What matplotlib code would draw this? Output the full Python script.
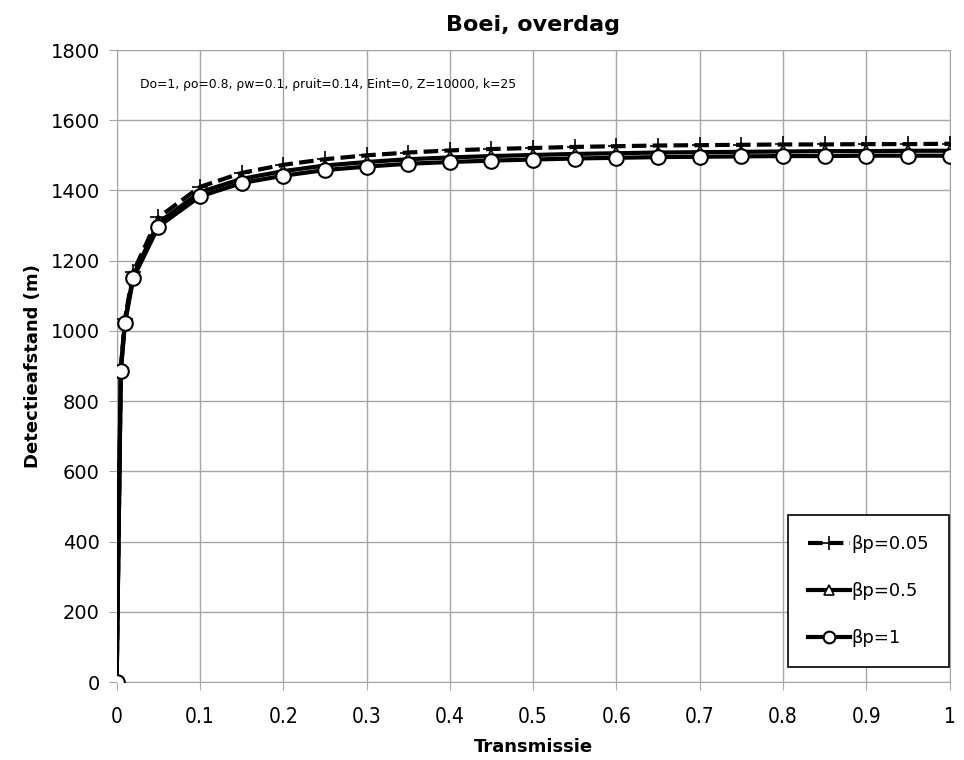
import matplotlib
matplotlib.use('Agg')
import matplotlib.pyplot as plt

# transmissie
x = [0, 0.005, 0.01, 0.02, 0.05, 0.1, 0.15, 0.2, 0.25, 0.3, 0.35, 0.4, 0.45,
     0.5, 0.55, 0.6, 0.65, 0.7, 0.75, 0.8, 0.85, 0.9, 0.95, 1.0]

# detectieafstand (m) per beta_p
bp_005 = [0, 895, 1035, 1168, 1323, 1410, 1450, 1473, 1489, 1500, 1508, 1514,
          1518, 1521, 1524, 1526, 1528, 1529, 1530, 1531, 1531, 1532, 1532, 1533]
bp_05 = [0, 890, 1028, 1158, 1308, 1395, 1433, 1455, 1471, 1481, 1489, 1494,
         1498, 1501, 1504, 1506, 1508, 1509, 1510, 1511, 1512, 1512, 1513, 1513]
bp_1 = [0, 885, 1022, 1150, 1297, 1383, 1421, 1442, 1458, 1468, 1476, 1481,
        1485, 1488, 1491, 1493, 1495, 1496, 1497, 1498, 1498, 1499, 1499, 1499]

labels = ['\u03b2p=0.05', '\u03b2p=0.5', '\u03b2p=1']
xticks = [0, 0.1, 0.2, 0.3, 0.4, 0.5, 0.6, 0.7, 0.8, 0.9, 1]
xticklabels = ['0', '0.1', '0.2', '0.3', '0.4', '0.5', '0.6', '0.7', '0.8', '0.9', '1']
yticks = list(range(0, 1801, 200))

fig = plt.figure(figsize=(9.64, 7.6), dpi=100)
ax = fig.add_axes([0.121, 0.1026, 0.864, 0.8316])

ax.plot(x, bp_005, color='black', lw=3, ls=(0, (3.5, 1.5)), marker='+',
        ms=12, mew=1.2, label=labels[0], zorder=3)
ax.plot(x, bp_05, color='black', lw=3, marker='^', ms=9, mfc='white',
        mec='black', mew=1.2, label=labels[1], zorder=4)
ax.plot(x, bp_1, color='black', lw=3, marker='o', ms=10.5, mfc='white',
        mec='black', mew=1.5, label=labels[2], zorder=5)

ax.set_xlim(0, 1)
ax.set_ylim(0, 1800)
ax.set_xticks(xticks)
ax.set_xticklabels(xticklabels, fontsize=15, fontstretch='condensed')
ax.set_yticks(yticks)
ax.set_yticklabels([str(v) for v in yticks], fontsize=14)
ax.grid(True, color='#a6a6a6', lw=1)
ax.tick_params(axis='both', length=6, color='#a6a6a6', pad=6)
ax.tick_params(axis='x', pad=12)
for s in ax.spines.values():
    s.set_color('#a6a6a6')
ax.set_axisbelow(True)

ax.set_title('Boei, overdag', fontsize=16, fontweight='bold', pad=14)
ax.set_xlabel('Transmissie', fontsize=13, fontweight='bold', labelpad=8)
ax.set_ylabel('Detectieafstand (m)', fontsize=13, fontweight='bold', labelpad=6)

ax.text(0.028, 0.946, 'Do=1, \u03c1o=0.8, \u03c1w=0.1, \u03c1ruit=0.14, Eint=0, Z=10000, k=25',
        transform=ax.transAxes, fontsize=8.9, va='center', ha='left')

leg = ax.legend(loc='lower right', bbox_to_anchor=(0.9995, 0.024), fontsize=13,
                frameon=True, fancybox=False, edgecolor='black', framealpha=1,
                handlelength=2.3, handletextpad=0.1, labelspacing=1.6,
                borderpad=1.1, borderaxespad=0, markerscale=0.8)
leg.get_frame().set_linewidth(1.2)

fig.savefig('out.png', dpi=100)
